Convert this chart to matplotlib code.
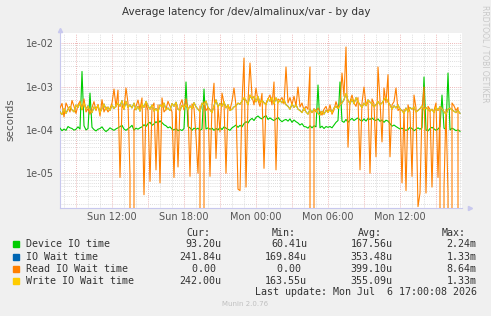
import numpy as np
import pandas as pd
import matplotlib
matplotlib.use("Agg")
import matplotlib.pyplot as plt
import matplotlib.dates as mdates
from matplotlib.ticker import FixedLocator, FuncFormatter, NullFormatter

# 10 minute samples, values in microseconds
times = pd.date_range("2026-07-05 07:40", periods=201, freq="10min")

device_io = [
    110, 96, 105, 98, 120, 112, 108, 99, 104, 118, 105, 2240,
    125, 100, 108, 710, 115, 102, 95, 104, 108, 118, 101, 92,
    100, 112, 104, 98, 106, 112, 120, 128, 105, 98, 107, 115,
    128, 99, 110, 104, 112, 118, 132, 120, 140, 150, 128, 138,
    155, 142, 162, 148, 132, 125, 112, 118, 104, 100, 108, 96,
    102, 97, 108, 1280, 120, 112, 98, 110, 104, 110, 98, 105,
    880, 105, 112, 104, 110, 98, 108, 100, 115, 102, 118, 110,
    104, 98, 112, 120, 130, 115, 128, 118, 140, 155, 145, 170,
    185, 165, 195, 210, 190, 180, 200, 215, 175, 190, 175, 165,
    180, 195, 170, 155, 168, 175, 160, 180, 150, 170, 155, 145,
    130, 140, 120, 118, 110, 125, 112, 125, 118, 1090, 112, 122,
    108, 120, 115, 120, 112, 130, 150, 165, 1280, 160, 150, 175,
    150, 170, 185, 165, 178, 190, 170, 160, 180, 160, 185, 175,
    190, 172, 165, 180, 158, 170, 150, 168, 160, 140, 122, 130,
    120, 112, 105, 110, 102, 98, 102, 115, 108, 96, 104, 112,
    104, 112, 1670, 100, 95, 108, 115, 106, 98, 105, 118, 640,
    110, 102, 2060, 100, 110, 104, 96, 101, 93,
]

io_wait = [
    262, 228, 308, 242, 302, 348, 292, 262, 375, 332, 415, 302,
    415, 302, 362, 282, 252, 338, 302, 368, 252, 318, 398, 292,
    338, 282, 378, 312, 362, 415, 352, 475, 302, 455, 332, 380,
    322, 415, 292, 352, 272, 398, 332, 455, 362, 302, 378, 272,
    312, 262, 378, 342, 415, 292, 322, 282, 408, 352, 438, 302,
    282, 368, 332, 388, 292, 362, 312, 428, 342, 302, 262, 415,
    382, 465, 332, 292, 252, 362, 495, 342, 412, 352, 445, 322,
    378, 282, 302, 342, 362, 415, 392, 465, 545, 485, 385, 630,
    515, 590, 445, 590, 425, 485, 425, 385, 525, 462, 550, 402,
    550, 422, 482, 422, 495, 382, 352, 302, 398, 332, 382, 302,
    282, 252, 322, 262, 232, 302, 252, 302, 282, 242, 222, 272,
    232, 282, 262, 292, 252, 322, 352, 312, 378, 418, 500, 690,
    482, 402, 515, 402, 555, 448, 382, 332, 418, 362, 495, 438,
    402, 342, 382, 455, 382, 422, 495, 555, 440, 382, 302, 362,
    322, 378, 302, 282, 242, 322, 262, 332, 302, 338, 262, 282,
    312, 358, 292, 328, 292, 272, 302, 252, 338, 282, 348, 312,
    262, 232, 302, 318, 292, 272, 252, 282, 241.84,
]

read_wait = [
    320, 410, 200, 420, 330, 260, 480, 350, 240, 380, 460, 290,
    520, 260, 310, 230, 330, 450, 280, 390, 210, 500, 260, 340,
    260, 310, 420, 880, 340, 830, 8, 380, 300, 930, 420, 9,
    0, 280, 350, 490, 300, 550, 3.2, 420, 280, 6.5, 330, 420,
    12, 380, 6, 550, 260, 300, 460, 350, 260, 8, 420, 14,
    380, 500, 290, 520, 300, 8.5, 400, 320, 70, 10, 360, 0,
    450, 280, 330, 8.5, 380, 1200, 22, 350, 90, 710, 420, 10,
    380, 290, 460, 930, 360, 4.3, 4, 420, 4580, 4.8, 460, 3510,
    600, 380, 930, 480, 350, 700, 13, 420, 520, 640, 380, 1280,
    12, 520, 480, 560, 400, 2840, 420, 560, 380, 600, 360, 980,
    340, 420, 280, 350, 300, 2840, 0, 310, 260, 320, 270, 220,
    300, 350, 250, 380, 230, 290, 450, 320, 380, 2060, 600, 8220,
    40, 450, 640, 420, 350, 560, 12, 420, 980, 380, 460, 10,
    520, 400, 24, 2840, 480, 53, 930, 420, 1890, 24, 380, 450,
    930, 280, 320, 6, 300, 4, 380, 260, 8.5, 640, 320, 1.7,
    3.5, 290, 980, 3.5, 350, 300, 4.8, 280, 420, 8, 330, 0,
    4.8, 300, 3.5, 0, 420, 360, 280, 330, 0,
]

write_wait = [
    260, 225, 310, 240, 300, 350, 290, 260, 380, 330, 420, 300,
    420, 300, 360, 280, 250, 340, 300, 370, 250, 320, 400, 290,
    340, 280, 380, 310, 360, 420, 350, 480, 300, 460, 330, 380,
    320, 420, 290, 350, 270, 400, 330, 460, 360, 300, 380, 270,
    310, 260, 380, 340, 420, 290, 320, 280, 410, 350, 440, 300,
    280, 370, 330, 390, 290, 360, 310, 430, 340, 300, 260, 420,
    380, 470, 330, 290, 250, 360, 500, 340, 410, 350, 450, 320,
    380, 280, 300, 340, 360, 420, 390, 470, 560, 480, 380, 650,
    520, 600, 440, 600, 420, 480, 420, 380, 530, 460, 560, 400,
    560, 420, 480, 420, 500, 380, 350, 300, 400, 330, 380, 300,
    280, 250, 320, 260, 230, 300, 250, 300, 280, 240, 220, 270,
    230, 280, 260, 290, 250, 320, 350, 310, 380, 420, 500, 700,
    480, 400, 520, 400, 560, 450, 380, 330, 420, 360, 500, 440,
    400, 340, 380, 460, 380, 420, 500, 560, 440, 380, 300, 360,
    320, 380, 300, 280, 240, 320, 260, 330, 300, 340, 260, 280,
    310, 360, 290, 330, 290, 270, 300, 250, 340, 280, 350, 310,
    260, 230, 300, 320, 290, 270, 250, 280, 242,
]

labels = ["Device IO time", "IO Wait time", "Read IO Wait time", "Write IO Wait time"]
colors = ["#00CC00", "#0066B3", "#FF8000", "#FFCC00"]
cur = ["93.20u", "241.84u", "0.00 ", "242.00u"]
mins = ["60.41u", "169.84u", "0.00 ", "163.55u"]
avgs = ["167.56u", "353.48u", "399.10u", "355.09u"]
maxs = ["2.24m", "1.33m", "8.64m", "1.33m"]

W, H = 491, 316
fig = plt.figure(figsize=(W / 100, H / 100), dpi=100, facecolor="#F0F0F0")
ax = fig.add_axes([60 / W, 1 - 208 / H, 402 / W, 175 / H], facecolor="white")

series = [device_io, io_wait, read_wait, write_wait]
for vals, col in zip(series, colors):
    ax.plot(times, np.array(vals) * 1e-6, color=col, lw=0.8, zorder=3)

ax.set_yscale("log")
ax.set_ylim(1.58e-6, 0.0173)
ax.set_xlim(pd.Timestamp("2026-07-05 07:40"), pd.Timestamp("2026-07-06 17:10"))

ax.yaxis.set_major_locator(FixedLocator([1e-5, 1e-4, 1e-3, 1e-2]))
ax.yaxis.set_major_formatter(FuncFormatter(lambda v, p: f"{v:.0e}"))
ax.yaxis.set_minor_formatter(NullFormatter())

ax.xaxis.set_major_locator(mdates.HourLocator(byhour=range(0, 24, 3)))
ax.xaxis.set_minor_locator(mdates.HourLocator())
ax.xaxis.set_major_formatter(FuncFormatter(
    lambda v, p: mdates.num2date(v).strftime("%a %H:%M") if mdates.num2date(v).hour % 6 == 0 else ""))

ax.grid(which="minor", color="#D4D4D4", ls=(0, (1, 1.5)), lw=0.6, zorder=1)
ax.grid(which="major", color="#E8A0A0", ls=(0, (1, 1.5)), lw=0.6, zorder=2)

ax.tick_params(which="both", length=0, labelsize=7, labelcolor="#555555")
ax.tick_params(axis="y", pad=4.5)
ax.tick_params(axis="x", pad=3)
for s in ["top", "right"]:
    ax.spines[s].set_visible(False)
for s in ["left", "bottom"]:
    ax.spines[s].set_color("#C8C8EE")
    ax.spines[s].set_linewidth(0.8)
ax.plot(0, 1.02, marker="^", color="#C8C8EE", ms=3, transform=ax.transAxes, clip_on=False)
ax.plot(1.02, 0, marker=">", color="#C8C8EE", ms=3, transform=ax.transAxes, clip_on=False)

fig.text(10 / W, 1 - 120 / H, "seconds", rotation=90, ha="center", va="center",
         fontsize=7.5, color="#555555")
fig.text(246 / W, 1 - 12 / H, "Average latency for /dev/almalinux/var - by day",
         ha="center", va="center", fontsize=7.5, color="#333333")
fig.text(485 / W, 1 - 5 / H, "RRDTOOL / TOBI OETIKER", rotation=270, ha="center", va="top",
         fontsize=5.5, color="#C8C8C8")

# legend block
mono = dict(family="DejaVu Sans Mono", fontsize=7.2, color="#333333")
ys = [244.3, 256.5, 268.5, 280.5]
colx = [221.7, 307, 392.7, 476.7]
for j, h in enumerate(["Cur:", "Min:", "Avg:", "Max:"]):
    fig.text((colx[j] - 11) / W, 1 - 232.7 / H, h, ha="right", va="center", **mono)
for k in range(4):
    y = 1 - ys[k] / H
    fig.patches.append(plt.Rectangle((13 / W, y - 3 / H), 6 / W, 6 / H, color=colors[k],
                                     transform=fig.transFigure, figure=fig))
    fig.text(26 / W, y, labels[k], ha="left", va="center", **mono)
    for j, col in enumerate([cur, mins, avgs, maxs]):
        fig.text(colx[j] / W, y, col[k], ha="right", va="center", **mono)
fig.text(476.7 / W, 1 - 292.3 / H, "Last update: Mon Jul  6 17:00:08 2026",
         ha="right", va="center", **mono)
fig.text(245 / W, 1 - 304.5 / H, "Munin 2.0.76", ha="center", va="center",
         fontsize=5, color="#C0C0C0")

fig.savefig("out.png", dpi=100, facecolor=fig.get_facecolor())
